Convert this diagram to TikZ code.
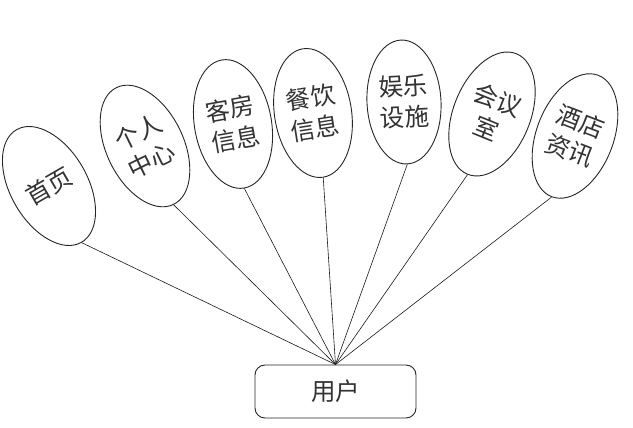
\documentclass[tikz,border=0pt]{standalone}
\usepackage{fontspec}
\newfontfamily\cjk{Noto Sans CJK SC}
\usetikzlibrary{shapes.geometric}

\begin{document}
\begin{tikzpicture}[x=1pt, y=-1pt, topic/.style={ellipse, draw=black!85, line width=0.9pt, fill=white, minimum width=77pt, minimum height=130pt, inner sep=0pt, align=center, text=black!80, font=\cjk\fontsize{24.5}{31}\selectfont}, userbox/.style={draw=black!85, line width=0.9pt, fill=white, rounded corners=10pt, minimum width=161pt, minimum height=53pt, text=black!80, font=\cjk\fontsize{24.5}{28}\selectfont}, link/.style={draw=black!90, line width=0.6pt}
]
  \useasboundingbox (0,0) rectangle (633,428);
  \node[userbox] (user) at (335.5,391.5) {用户};
  \node[topic, rotate=30] (home) at (49,186) {首页};
  \node[topic, rotate=26] (mine) at (145,146) {个人\\中心};
  \node[topic, rotate=10] (room) at (233,124) {客房\\信息};
  \node[topic, rotate=9] (food) at (313,113) {餐饮\\信息};
  \node[topic, rotate=3, minimum width=74pt, minimum height=124pt] (fun) at (404,102) {娱乐\\设施};
  \node[topic, rotate=-22] (meet) at (492,114) {会议\\室};
  \node[topic, rotate=-21] (news) at (575,136) {酒店\\资讯};
  \draw[link] (home.south) -- (user.north);
  \draw[link] (mine.south) -- (user.north);
  \draw[link] (room.south) -- (user.north);
  \draw[link] (food.south) -- (user.north);
  \draw[link] (fun.south) -- (user.north);
  \draw[link] (meet.south) -- (user.north);
  \draw[link] (news.south) -- (user.north);
\end{tikzpicture}
\end{document}
